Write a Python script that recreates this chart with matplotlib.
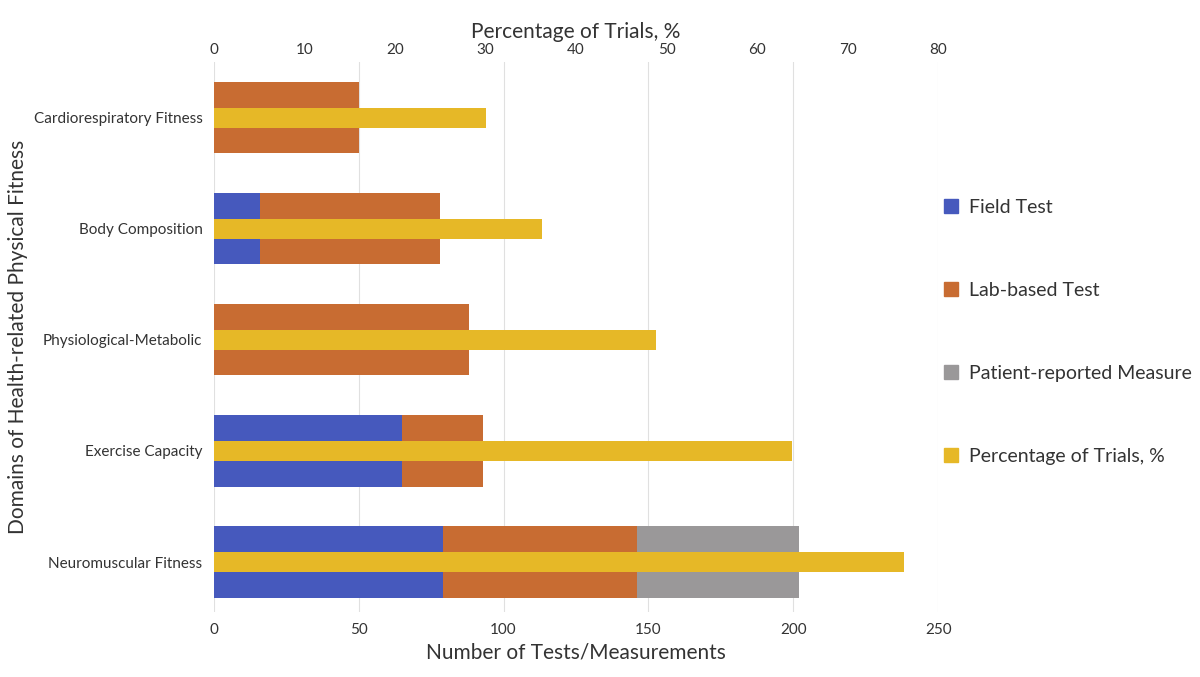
import matplotlib.pyplot as plt
import numpy as np
from matplotlib.patches import Patch

plt.rcParams['font.family'] = ['Lato', 'DejaVu Sans']

categories = ['Cardiorespiratory Fitness', 'Body Composition', 'Physiological-Metabolic',
              'Exercise Capacity', 'Neuromuscular Fitness']
field_test = [0, 16, 0, 65, 79]
lab_test = [50, 62, 88, 28, 67]
patient_reported = [0, 0, 0, 0, 56]
pct_trials = [30.1, 36.3, 48.8, 63.8, 76.2]

c_field = '#4659BD'
c_lab = '#C86C32'
c_pat = '#9A9899'
c_pct = '#E6B827'

fig = plt.figure(figsize=(12, 6.77), dpi=100)
ax = fig.add_axes([0.178, 0.096, 0.604, 0.812])
y = np.arange(len(categories))
h = 0.23
field = np.array(field_test)
lab = np.array(lab_test)
pat = np.array(patient_reported)

# stacked bars drawn above and below the percentage bar
for off in (-0.205, 0.205):
    ax.barh(y + off, field, height=h, color=c_field)
    ax.barh(y + off, lab, left=field, height=h, color=c_lab)
    ax.barh(y + off, pat, left=field + lab, height=h, color=c_pat)

ax.set_xlim(0, 250)
ax.set_ylim(4.45, -0.5)
ax.set_xticks(range(0, 251, 50))
ax.set_yticks(y)
ax.set_yticklabels(categories, fontsize=10.5, color='#333333')
ax.grid(axis='x', color='#e0e0e0', linewidth=0.8)
ax.set_axisbelow(True)
ax.tick_params(length=0, labelsize=11, colors='#333333', pad=8)
ax.set_xlabel('Number of Tests/Measurements', fontsize=15, color='#333333')
ax.set_ylabel('Domains of Health-related Physical Fitness', fontsize=15, color='#333333')
for s in ax.spines.values():
    s.set_visible(False)

ax2 = ax.twiny()
ax2.barh(y, pct_trials, height=0.18, color=c_pct)
ax2.set_xlim(0, 80)
ax2.set_xticks(range(0, 81, 10))
ax2.tick_params(length=0, labelsize=11, colors='#333333')
ax2.set_xlabel('Percentage of Trials, %', fontsize=15, color='#333333')
for s in ax2.spines.values():
    s.set_visible(False)

handles = [Patch(color=c_field, label='Field Test'),
           Patch(color=c_lab, label='Lab-based Test'),
           Patch(color=c_pat, label='Patient-reported Measure'),
           Patch(color=c_pct, label='Percentage of Trials, %')]
leg = fig.legend(handles=handles, loc='center left', bbox_to_anchor=(0.772, 0.51),
                 frameon=False, fontsize=14, labelspacing=3.4, handlelength=0.7,
                 handleheight=0.7, handletextpad=0.6)
for t in leg.get_texts():
    t.set_color('#333333')

fig.savefig('out.png')
